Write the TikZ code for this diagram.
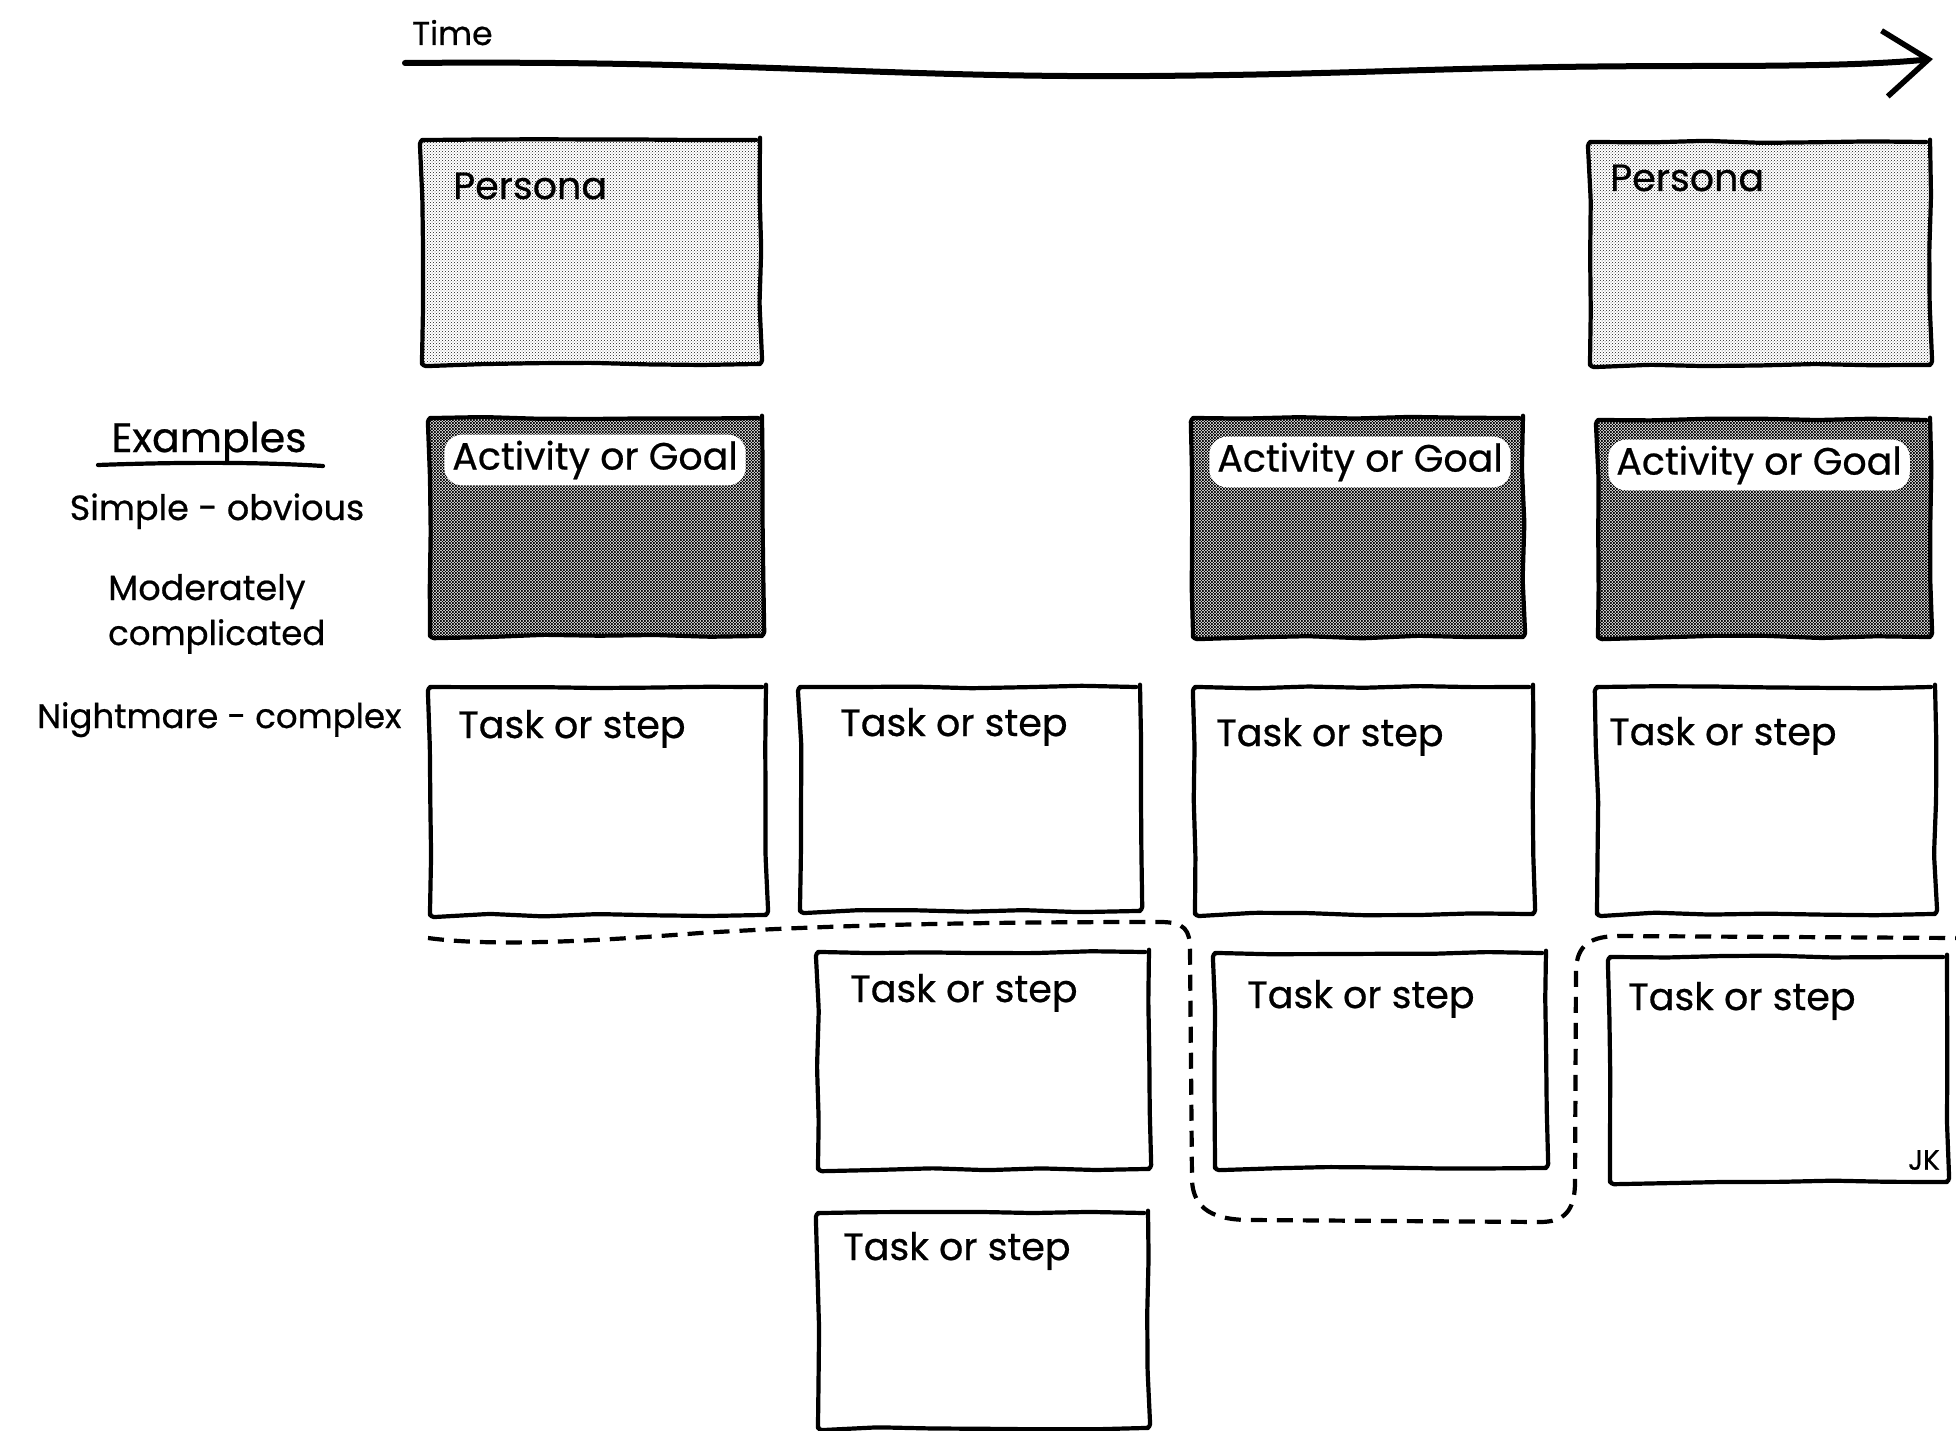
\documentclass[tikz,border=0pt]{standalone}
\usepackage{fontspec}
\setmainfont{Poppins}[FakeBold=0.6]
\usetikzlibrary{arrows.meta,decorations.pathmorphing,calc,patterns}

% fine diagonal dot grids used as shading
\pgfdeclarepatternformonly{lightdots}{\pgfqpoint{-1pt}{-1pt}}{\pgfqpoint{3pt}{3pt}}{\pgfqpoint{3pt}{3pt}}{%
  \pgfpathcircle{\pgfqpoint{0pt}{0pt}}{.48pt}%
  \pgfpathcircle{\pgfqpoint{1.5pt}{1.5pt}}{.48pt}%
  \pgfusepath{fill}}
\pgfdeclarepatternformonly{darkdots}{\pgfqpoint{-1pt}{-1pt}}{\pgfqpoint{3pt}{3pt}}{\pgfqpoint{3pt}{3pt}}{%
  \pgfpathcircle{\pgfqpoint{0pt}{0pt}}{.8pt}%
  \pgfpathcircle{\pgfqpoint{1.5pt}{1.5pt}}{.8pt}%
  \pgfpathcircle{\pgfqpoint{3pt}{0pt}}{.8pt}%
  \pgfpathcircle{\pgfqpoint{0pt}{3pt}}{.8pt}%
  \pgfpathcircle{\pgfqpoint{3pt}{3pt}}{.8pt}%
  \pgfusepath{fill}}

% a box given by its corners (x1,y1) and (x2,y2), in picture units
\newcommand\sketchbox[6]{%
  \node[#6, minimum width={#4-#2}, minimum height={#5-#3}]
    (#1) at ({(#2+#4)/2},{(#3+#5)/2}) {};}

\begin{document}
\begin{tikzpicture}[x=1pt,y=-1pt,
  handline/.style={line width=4.2pt, line cap=round, line join=round},
  wobble/.style={decorate, decoration={random steps, segment length=55pt, amplitude=1.4pt}, rounded corners=4pt},
  boxbase/.style={draw, handline, wobble, inner sep=0pt, outer sep=0pt},
  personabox/.style={boxbase, pattern=lightdots, pattern color=black},
  activitybox/.style={boxbase, pattern=darkdots, pattern color=black},
  taskbox/.style={boxbase, fill=white},
  hand/.style={font=\fontsize{38}{44}\selectfont, inner sep=0pt},
  sidelabel/.style={font=\fontsize{35}{40}\selectfont, inner sep=0pt},
  pill/.style={hand, fill=white, rounded corners=18pt, inner xsep=8pt, inner ysep=6pt},
  dashline/.style={line width=4.2pt, dash pattern=on 16pt off 10pt},
]
\pgfmathsetseed{11}
\useasboundingbox (0,0) rectangle (1956,1431);

% time axis
\node[font=\fontsize{33}{40}\selectfont, inner sep=0pt, anchor=base west] (time) at (412,45) {Time};
\coordinate (tstart) at (405,63);
\coordinate (tend) at (1933,59);
\draw[line width=6pt, line cap=round, -{Straight Barb[length=44pt, width=66pt, line width=5.5pt]}]
  (tstart) .. controls (750,60) and (880,78) .. (1150,76)
  .. controls (1380,74) and (1450,66) .. (1700,66)
  .. controls (1820,66) and (1880,64) .. (tend);

% personas
\sketchbox{p1}{422}{140}{760}{364}{personabox}
\sketchbox{p2}{1590}{142}{1930}{365}{personabox}
\node[hand, anchor=base west] (p1t) at (453,199) {Persona};
\node[hand, anchor=base west] (p2t) at (1610,191) {Persona};

% activities
\sketchbox{a1}{430}{418}{762}{636}{activitybox}
\sketchbox{a2}{1193}{418}{1523}{637}{activitybox}
\sketchbox{a3}{1598}{420}{1930}{637}{activitybox}
\node[pill] (a1t) at (595,460) {Activity or Goal};
\node[pill] (a2t) at (1360,462) {Activity or Goal};
\node[pill] (a3t) at (1759,465) {Activity or Goal};

% tasks
\sketchbox{t1}{430}{687}{766}{915}{taskbox}
\sketchbox{t2}{800}{687}{1140}{911}{taskbox}
\sketchbox{t3}{1195}{687}{1533}{914}{taskbox}
\sketchbox{t4}{1597}{687}{1935}{914}{taskbox}
\sketchbox{t5}{818}{952}{1149}{1169}{taskbox}
\sketchbox{t6}{1215}{953}{1546}{1168}{taskbox}
\sketchbox{t7}{1610}{957}{1947}{1182}{taskbox}
\sketchbox{t8}{818}{1213}{1148}{1428}{taskbox}
\node[hand, anchor=base west] (t1t) at (458,738) {Task or step};
\node[hand, anchor=base west] (t2t) at (840,736) {Task or step};
\node[hand, anchor=base west] (t3t) at (1216,746) {Task or step};
\node[hand, anchor=base west] (t4t) at (1609,745) {Task or step};
\node[hand, anchor=base west] (t5t) at (850,1002) {Task or step};
\node[hand, anchor=base west] (t6t) at (1247,1008) {Task or step};
\node[hand, anchor=base west] (t7t) at (1628,1010) {Task or step};
\node[hand, anchor=base west] (t8t) at (843,1260) {Task or step};
\node[font=\fontsize{28}{30}\selectfont, inner sep=0pt] (sig) at (1924,1160) {JK};

% release cut line
\coordinate (cutl) at (428,938);
\coordinate (cutr) at (1956,938);
\draw[dashline, line cap=butt]
  (cutl) .. controls (480,945) and (560,944) .. (700,933)
  .. controls (850,924) and (1000,922) .. (1160,922)
  .. controls (1185,922) and (1190,930) .. (1190,950)
  -- (1192,1180)
  .. controls (1193,1210) and (1215,1220) .. (1250,1220)
  -- (1540,1222)
  .. controls (1565,1222) and (1574,1210) .. (1575,1185)
  -- (1576,970)
  .. controls (1577,945) and (1590,936) .. (1620,936)
  -- (cutr);

% complexity examples
\node[font=\fontsize{41}{46}\selectfont, inner sep=0pt, anchor=base] (ex) at (209,452) {Examples};
\coordinate (exl) at (98,465);
\coordinate (exr) at (323,466);
\draw[handline] (exl) .. controls (180,462) and (260,462) .. (exr);
\node[sidelabel, anchor=base] (simple) at (217,520) {Simple - obvious};
\node[sidelabel, anchor=base west] (mod1) at (108,600) {Moderately};
\node[sidelabel, anchor=base west, font=\fontsize{34}{40}\selectfont] (mod2) at (108,645) {complicated};
\node[sidelabel, anchor=base west, font=\fontsize{34}{40}\selectfont] (night) at (37,728) {Nightmare - complex};
\end{tikzpicture}
\end{document}
